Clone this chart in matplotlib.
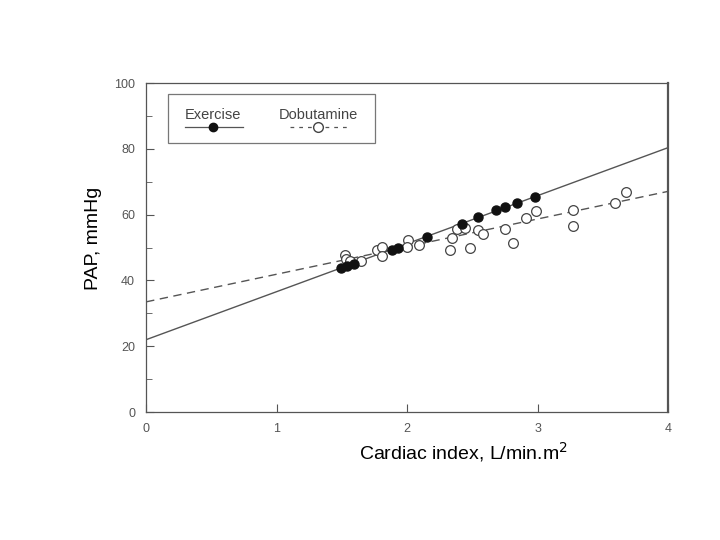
import matplotlib.pyplot as plt
import numpy as np
from matplotlib.patches import Rectangle

plt.rcParams['font.family'] = ['Liberation Sans', 'DejaVu Sans']

# exercise (filled circles)
ex_ci = [1.49, 1.54, 1.59, 1.88, 1.93, 2.15, 2.42, 2.54, 2.68, 2.75, 2.84, 2.98]
ex_pap = [43.8, 44.4, 45.0, 49.2, 50.0, 53.2, 57.1, 59.3, 61.4, 62.3, 63.5, 65.3]

# dobutamine (open circles)
dob_ci = [1.52, 1.53, 1.56, 1.65, 1.77, 1.81, 1.81, 2.01, 2.00, 2.09,
          2.33, 2.34, 2.38, 2.44, 2.48, 2.54, 2.58, 2.75, 2.81, 2.91,
          2.99, 3.27, 3.27, 3.59, 3.68]
dob_pap = [47.6, 46.5, 46.0, 45.8, 49.2, 50.2, 47.4, 52.3, 50.2, 50.8,
           49.2, 52.8, 55.6, 55.9, 50.0, 55.3, 54.1, 55.6, 51.4, 59.0,
           61.1, 61.4, 56.5, 63.5, 66.9]

# regression lines (intercept, slope)
ex_fit = (22.0, 14.6)
dob_fit = (33.5, 8.4)

line_col = '#555555'

fig = plt.figure(figsize=(7.2, 5.4), dpi=100)
ax = fig.add_axes([0.203, 0.237, 0.725, 0.609])

xs = np.array([0, 4])
ax.plot(xs, ex_fit[0] + ex_fit[1] * xs, '-', color=line_col, lw=1.0, zorder=1)
ax.plot(xs, dob_fit[0] + dob_fit[1] * xs, '--', color=line_col, lw=1.0,
        dashes=(6, 4), zorder=1)

ax.plot(dob_ci, dob_pap, 'o', ms=7, mfc='white', mec='#444444', mew=0.9,
        ls='none', zorder=2)
ax.plot(ex_ci, ex_pap, 'o', ms=6.5, mfc='#111111', mec='#111111',
        ls='none', zorder=3)

ax.set_xlim(0, 4)
ax.set_ylim(0, 100)
ax.set_xticks([0, 1, 2, 3, 4])
ax.set_yticks(np.arange(0, 101, 20))
ax.set_yticks(np.arange(10, 100, 20), minor=True)
ax.tick_params(direction='in', length=6, width=0.8, color='#555555',
               labelsize=9, labelcolor='#555555', pad=8)
ax.tick_params(axis='y', which='minor', direction='in', length=4,
               color='#555555')
for s in ax.spines.values():
    s.set_color('#555555')
    s.set_linewidth(0.9)
ax.spines['right'].set_linewidth(1.6)

ax.set_xlabel('Cardiac index, L/min.m$^2$', fontsize=14)
ax.xaxis.set_label_coords(0.607, -0.085)
ax.set_ylabel('PAP, mmHg', fontsize=14)
ax.yaxis.set_label_coords(-0.085, 0.529)

# legend box
ax.add_patch(Rectangle((0.042, 0.818), 0.397, 0.149, transform=ax.transAxes,
                       fill=False, ec='#777777', lw=0.9))
ax.text(0.128, 0.903, 'Exercise', transform=ax.transAxes, ha='center',
        va='center', fontsize=10.5, color='#444444')
ax.text(0.33, 0.903, 'Dobutamine', transform=ax.transAxes, ha='center',
        va='center', fontsize=10.5, color='#444444')
ax.plot([0.075, 0.186], [0.866, 0.866], '-', color=line_col, lw=0.9,
        transform=ax.transAxes)
ax.plot([0.128], [0.866], 'o', ms=6, color='#111111', transform=ax.transAxes)
ax.plot([0.276, 0.39], [0.866, 0.866], '--', color=line_col, lw=0.9,
        dashes=(3, 4), transform=ax.transAxes)
ax.plot([0.33], [0.866], 'o', ms=7, mfc='white', mec='#444444',
        transform=ax.transAxes)

plt.savefig('out.png', dpi=100)
